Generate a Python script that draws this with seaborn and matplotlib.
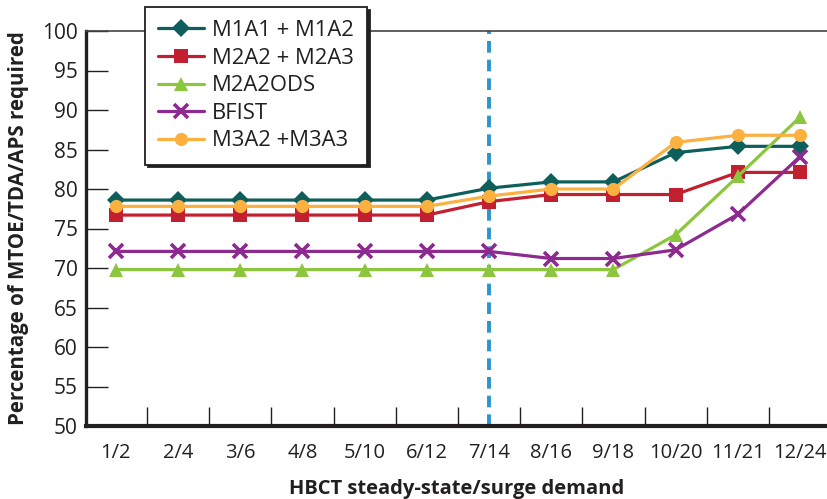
import matplotlib
matplotlib.use("Agg")
import matplotlib.pyplot as plt
from matplotlib import font_manager
import seaborn as sns
import pandas as pd

categories = ["1/2", "2/4", "3/6", "4/8", "5/10", "6/12", "7/14", "8/16", "9/18", "10/20", "11/21", "12/24"]
m1a1_m1a2 = [78.6, 78.6, 78.6, 78.6, 78.6, 78.6, 80.1, 80.9, 80.9, 84.6, 85.4, 85.4]
m2a2_m2a3 = [76.7, 76.7, 76.7, 76.7, 76.7, 76.7, 78.4, 79.3, 79.3, 79.3, 82.1, 82.1]
m2a2ods = [69.8, 69.8, 69.8, 69.8, 69.8, 69.8, 69.8, 69.8, 69.8, 74.2, 81.6, 89.1]
bfist = [72.1, 72.1, 72.1, 72.1, 72.1, 72.1, 72.1, 71.2, 71.2, 72.3, 76.8, 84.1]
m3a2_m3a3 = [77.8, 77.8, 77.8, 77.8, 77.8, 77.8, 79.1, 80.0, 80.0, 85.9, 86.8, 86.8]
series_names = ["M1A1 + M1A2", "M2A2 + M2A3", "M2A2ODS", "BFIST", "M3A2 +M3A3"]
y_ticks = [50, 55, 60, 65, 70, 75, 80, 85, 90, 95, 100]
marker_line = 6  # index of 7/14

sns.set_theme(style="white")
avail = {f.name for f in font_manager.fontManager.ttflist}
fam = "Liberation Sans Narrow" if "Liberation Sans Narrow" in avail else "Open Sans"
plt.rcParams["font.family"] = [fam, "DejaVu Sans"]

rows = []
for name, vals in zip(series_names, [m1a1_m1a2, m2a2_m2a3, m2a2ods, bfist, m3a2_m3a3]):
    for i, v in enumerate(vals):
        rows.append({"x": i, "y": v, "series": name})
df = pd.DataFrame(rows)

colors = ["#0e5f5b", "#c21f30", "#8cc63f", "#8d2a90", "#fbb040"]
markers = ["D", "s", "^", "X", "o"]

fig = plt.figure(figsize=(8.28, 4.99), dpi=100)
ax = fig.add_axes([86/828, 1 - 426/499, 1 - 86/828, (426 - 31)/499])

for name, col, mk in zip(series_names, colors, markers):
    sub = df[df["series"] == name]
    if mk == "X":
        kw = dict(marker="x", markersize=10, markeredgewidth=2.6, markeredgecolor=col)
    else:
        kw = dict(marker=mk, markersize=9.5 if mk != "D" else 9.5, markeredgewidth=0, markerfacecolor=col)
    sns.lineplot(data=sub, x="x", y="y", color=col, linewidth=2.3, ax=ax, label=name, **kw)

ax.axvline(marker_line, color="#2a95d0", linewidth=2.8, linestyle=(0, (3, 1.8)), zorder=1)

ax.set_xlim(-0.48, 11.45)
ax.set_ylim(50, 100)
ax.set_yticks(y_ticks)
ax.set_yticklabels([str(t) for t in y_ticks], fontsize=15, color="#231f20")
ax.set_xticks(range(len(categories)))
ax.set_xticklabels(categories, fontsize=14.5, color="#231f20")
ax.set_xticks([i + 0.5 for i in range(len(categories) - 1)], minor=True)
ax.tick_params(axis="x", which="major", length=0, pad=12)
ax.tick_params(axis="x", which="minor", direction="in", length=14, width=1.0, color="#231f20", bottom=True)
ax.tick_params(axis="y", which="major", direction="in", length=16, width=1.0, color="#231f20", pad=6, left=True)

for s in ["left", "bottom", "top", "right"]:
    ax.spines[s].set_color("#231f20")
ax.spines["left"].set_linewidth(2.4)
ax.spines["bottom"].set_linewidth(3.0)
ax.spines["top"].set_linewidth(1.2)
ax.spines["top"].set_color("#444444")
ax.spines["right"].set_visible(False)
ax.grid(False)

ax.set_xlabel("HBCT steady-state/surge demand", fontsize=14.5, fontweight="bold", color="#231f20", labelpad=12)
ax.set_ylabel("Percentage of MTOE/TDA/APS required", fontsize=14.8, fontweight="bold", color="#231f20", labelpad=9)

leg = ax.legend(loc="upper left", bbox_to_anchor=((145 - 86)/742, (426 - 7)/395), borderaxespad=0,
                frameon=True, fancybox=False, shadow={"facecolor": "#222222", "edgecolor": "#222222", "alpha": 1},
                fontsize=15.8, handlelength=2.1, handletextpad=0.35, labelspacing=0.3, borderpad=0.6)
leg.get_frame().set_edgecolor("#231f20")
leg.get_frame().set_linewidth(1.3)
leg.get_frame().set_facecolor("white")
for t in leg.get_texts():
    t.set_color("#231f20")
leg.set_zorder(10)

fig.savefig("out.png", dpi=100)
